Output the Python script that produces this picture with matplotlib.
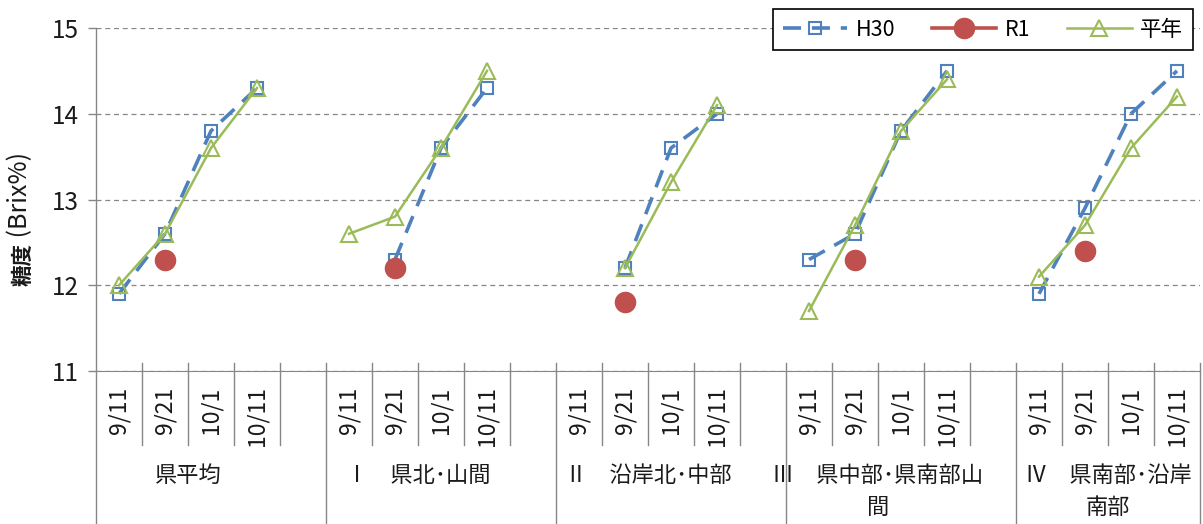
import numpy as np
import matplotlib
matplotlib.use("Agg")
import matplotlib.pyplot as plt
import matplotlib.transforms as mtransforms

plt.rcParams['font.family'] = ['Noto Sans CJK JP', 'DejaVu Sans']

nan = np.nan
dates = ['9/11', '9/21', '10/1', '10/11']
groups = ['県平均', 'Ⅰ　県北･山間', 'Ⅱ　沿岸北･中部',
          'Ⅲ　県中部･県南部山\n間', 'Ⅳ　県南部･沿岸\n南部']

h30 = [[11.9, 12.6, 13.8, 14.3],
       [nan, 12.3, 13.6, 14.3],
       [nan, 12.2, 13.6, 14.0],
       [12.3, 12.6, 13.8, 14.5],
       [11.9, 12.9, 14.0, 14.5]]
r1 = [[nan, 12.3, nan, nan],
      [nan, 12.2, nan, nan],
      [nan, 11.8, nan, nan],
      [nan, 12.3, nan, nan],
      [nan, 12.4, nan, nan]]
heinen = [[12.0, 12.6, 13.6, 14.3],
          [12.6, 12.8, 13.6, 14.5],
          [nan, 12.2, 13.2, 14.1],
          [11.7, 12.7, 13.8, 14.4],
          [12.1, 12.7, 13.6, 14.2]]


def flatten(series):
    # groups separated by one empty slot (none after the last group)
    out = []
    for i, g in enumerate(series):
        out += list(g)
        if i < len(series) - 1:
            out.append(nan)
    return np.array(out)


n_slots = len(groups) * 5 - 1
x = np.arange(n_slots)
xlabels = []
for i in range(len(groups)):
    xlabels += dates
    if i < len(groups) - 1:
        xlabels.append('')

fig = plt.figure(figsize=(12.03, 5.24), dpi=100)
ax = fig.add_axes([96 / 1203, 1 - 371 / 524, 1104 / 1203, 343 / 524])

blue = '#4F81BD'
red = '#C0504D'
green = '#9BBB59'
grey = '#868686'
txt = '#1a1a1a'

ax.plot(x, flatten(h30), color=blue, lw=2.6, ls=(0, (5, 3)), marker='s', ms=8,
        mfc='none', mec=blue, mew=1.5, label='H30', zorder=3)
ax.plot(x, flatten(r1), color=red, lw=2.6, marker='o', ms=14.5,
        mfc=red, mec=red, label='R1', zorder=4)
ax.plot(x, flatten(heinen), color=green, lw=1.8, marker='^', ms=12,
        mfc='none', mec=green, mew=1.5, label='平年', zorder=5)

ax.set_xlim(-0.5, n_slots - 0.5)
ax.set_ylim(11, 15)
ax.set_yticks([11, 12, 13, 14, 15])
ax.tick_params(axis='y', labelsize=17.5, length=6, color=grey, width=1, pad=6,
               labelcolor=txt)
ax.grid(axis='y', color=grey, ls=(0, (4, 3)), lw=0.9)

ax.set_xticks(x)
ax.set_xticklabels(xlabels, rotation=90, fontsize=16.5, color=txt)
ax.tick_params(axis='x', length=0, pad=11)
for lab in ax.get_xticklabels():
    lab.set_verticalalignment('top')

for s in ['top', 'right', 'left']:
    ax.spines[s].set_visible(False)
ax.spines['bottom'].set_color(grey)

trans = mtransforms.blended_transform_factory(ax.transData, ax.transAxes)
bottom = -(524 - 371) / 343
ax.plot([-0.5, -0.5], [1, bottom], color=grey, lw=1, transform=trans, clip_on=False)
for k in range(1, n_slots + 1):
    xb = k - 0.5
    if k % 5 == 0 or k == n_slots:
        ax.plot([xb, xb], [0.023, bottom], color=grey, lw=1, transform=trans, clip_on=False)
    else:
        ax.plot([xb, xb], [0.023, -0.216], color=grey, lw=1, transform=trans, clip_on=False)

for i, g in enumerate(groups):
    center = i * 5 + 1.5
    ax.text(center, -0.272, g, transform=trans, ha='center', va='top',
            fontsize=16, linespacing=1.5, color=txt)

# y label: bold 糖度, regular (Brix%)
fig.text(23 / 1203, 1 - 286 / 524, '糖度', rotation=90, ha='center',
         va='bottom', fontsize=15.5, fontweight='bold', color=txt)
fig.text(20 / 1203, 1 - 243 / 524, ' (Brix%) ', rotation=90, ha='center',
         va='bottom', fontsize=18, color=txt)

leg = fig.legend(loc='upper right', bbox_to_anchor=(1193 / 1203, 1 - 9 / 524),
                 ncol=3, fontsize=15.5, frameon=True, fancybox=False,
                 handlelength=3.0, columnspacing=1.7, borderpad=0.45,
                 handletextpad=0.4, borderaxespad=0)
leg.get_frame().set_edgecolor('black')
leg.get_frame().set_linewidth(1.2)
leg.get_frame().set_alpha(1)

fig.savefig('out.png', dpi=100)
